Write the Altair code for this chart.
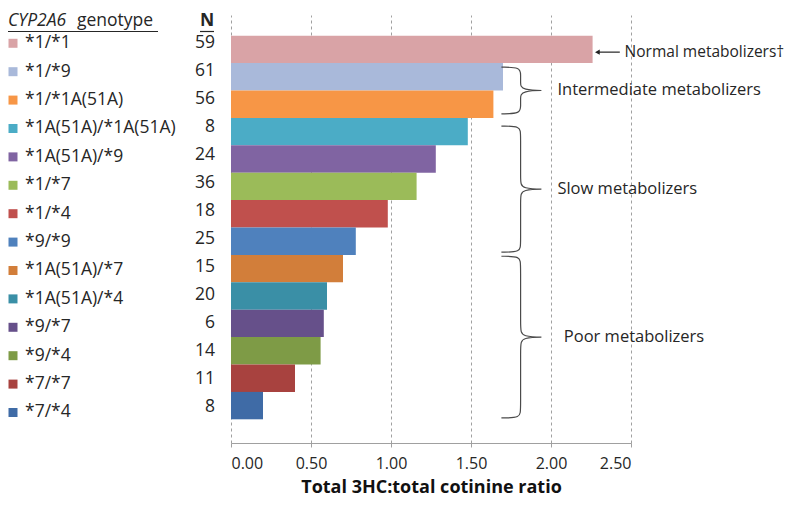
import altair as alt
import pandas as pd

# ---------------- data ----------------
genotypes = ["*1/*1", "*1/*9", "*1/*1A(51A)", "*1A(51A)/*1A(51A)", "*1A(51A)/*9",
             "*1/*7", "*1/*4", "*9/*9", "*1A(51A)/*7", "*1A(51A)/*4", "*9/*7",
             "*9/*4", "*7/*7", "*7/*4"]
n_values = [59, 61, 56, 8, 24, 36, 18, 25, 15, 20, 6, 14, 11, 8]
ratios = [2.26, 1.70, 1.64, 1.48, 1.28, 1.16, 0.98, 0.78, 0.70, 0.60, 0.58, 0.56, 0.40, 0.20]
colors = ["#D9A3A6", "#A9B9DA", "#F79646", "#4BACC6", "#8064A2", "#9BBB59", "#C0504D",
          "#4F81BD", "#D27E3A", "#3A8FA6", "#66508A", "#7E9B46", "#A8423F", "#3F6BA6"]
tick_values = [0, 0.5, 1.0, 1.5, 2.0, 2.5]

group_labels = ["Intermediate metabolizers", "Slow metabolizers", "Poor metabolizers"]
group_start = [1.15, 3.3, 8.05]     # brace span, in bar rows
group_end = [2.85, 7.9, 13.95]
group_text_x = [2.04, 2.04, 2.08]

normal_label = "Normal metabolizers\u2020"

FONT = "Open Sans, DejaVu Sans"
TXT = "#262626"

# ---------------- tables ----------------
df = pd.DataFrame({
    "genotype": genotypes,
    "n": n_values,
    "ratio": ratios,
    "idx": list(range(len(genotypes))),
})
df["i0"] = df["idx"]
df["i1"] = df["idx"] + 1
df["base"] = 0.0

XL, XM, XT, R = 1.69, 1.81, 2.005, 0.3
rows = []
for g, a, b in zip(group_labels, group_start, group_end):
    c = (a + b) / 2
    pts = [(XL, a), (XM, a), (XM, a + R), (XM, c - R), (XM, c), (XT, c),
           (XM, c), (XM, c + R), (XM, b - R), (XM, b), (XL, b)]
    for k, (px, py) in enumerate(pts):
        rows.append({"group": g, "k": k, "bx": px, "by": py})
brace_df = pd.DataFrame(rows)
glabel_df = pd.DataFrame({
    "label": group_labels,
    "lx": group_text_x,
    "ly": [(a + b) / 2 for a, b in zip(group_start, group_end)],
})
normal_df = pd.DataFrame({"label": [normal_label], "lx": [2.46], "ly": [0.6],
                          "ax0": [2.29], "ax1": [2.43]})

# ---------------- scales ----------------
bar_y = alt.Scale(domain=[-0.755, 14.865], reverse=True, nice=False, zero=False)
label_y = alt.Scale(domain=[-0.996, 14.074], reverse=True, nice=False, zero=False)
n_y = alt.Scale(domain=[-0.988, 14.28], reverse=True, nice=False, zero=False)
x_scale = alt.Scale(domain=[0, 2.5], nice=False, zero=True)
color_scale = alt.Scale(domain=genotypes, range=colors)

base = alt.Chart(df)

bars = base.mark_rect().encode(
    x=alt.X("base:Q", scale=x_scale,
            axis=alt.Axis(values=tick_values, format=".2f",
                          title="Total 3HC:total cotinine ratio")),
    x2="ratio:Q",
    y=alt.Y("i0:Q", scale=bar_y, axis=None),
    y2="i1:Q",
    color=alt.Color("genotype:N", scale=color_scale, legend=None),
)

labels = base.mark_text(align="left", baseline="middle", font=FONT, fontSize=17.5, color=TXT).encode(
    x=alt.value(-206),
    y=alt.Y("idx:Q", scale=label_y, axis=None),
    text="genotype:N",
)
squares = base.mark_square(size=81, opacity=1).encode(
    x=alt.value(-218),
    y=alt.Y("idx:Q", scale=label_y, axis=None),
    color=alt.Color("genotype:N", scale=color_scale, legend=None),
)
ns = base.mark_text(align="right", baseline="middle", font=FONT, fontSize=17.5, color=TXT).encode(
    x=alt.value(-16),
    y=alt.Y("idx:Q", scale=n_y, axis=None),
    text="n:Q",
)

braces = alt.Chart(brace_df).mark_line(interpolate="basis", color="#4a4a4a", strokeWidth=1.2).encode(
    x=alt.X("bx:Q", scale=x_scale),
    y=alt.Y("by:Q", scale=bar_y, axis=None),
    detail="group:N",
    order="k:Q",
)
glabels = alt.Chart(glabel_df).mark_text(align="left", baseline="middle", font=FONT, fontSize=16.5, color=TXT).encode(
    x=alt.X("lx:Q", scale=x_scale),
    y=alt.Y("ly:Q", scale=bar_y, axis=None),
    text="label:N",
)
nlabel = alt.Chart(normal_df).mark_text(align="left", baseline="middle", font=FONT, fontSize=15.5, color=TXT).encode(
    x=alt.X("lx:Q", scale=x_scale),
    y=alt.Y("ly:Q", scale=bar_y, axis=None),
    text="label:N",
)
arrow_line = alt.Chart(normal_df).mark_rule(color="#222222", strokeWidth=1.2).encode(
    x=alt.X("ax0:Q", scale=x_scale),
    x2="ax1:Q",
    y=alt.Y("ly:Q", scale=bar_y, axis=None),
)
arrow_head = alt.Chart(normal_df).mark_point(shape="triangle-left", filled=True, size=30,
                                             color="#222222", opacity=1).encode(
    x=alt.X("ax0:Q", scale=x_scale),
    y=alt.Y("ly:Q", scale=bar_y, axis=None),
)

hdr = pd.DataFrame({"t": ["CYP2A6"], "u": ["genotype"], "v": ["N"]})
h1 = alt.Chart(hdr).mark_text(align="left", baseline="middle", font=FONT, fontSize=17.5,
                              fontStyle="italic", color=TXT).encode(
    x=alt.value(-223), y=alt.value(6), text="t:N")
h2 = alt.Chart(hdr).mark_text(align="left", baseline="middle", font=FONT, fontSize=17.5,
                              color=TXT).encode(
    x=alt.value(-154), y=alt.value(6), text="u:N")
h3 = alt.Chart(hdr).mark_text(align="left", baseline="middle", font=FONT, fontSize=17.5,
                              fontWeight="bold", color=TXT).encode(
    x=alt.value(-31), y=alt.value(6), text="v:N")
u1 = alt.Chart(hdr).mark_rule(color=TXT, strokeWidth=1.2).encode(
    x=alt.value(-223), x2=alt.value(-73), y=alt.value(16.5))
u2 = alt.Chart(hdr).mark_rule(color=TXT, strokeWidth=1.2).encode(
    x=alt.value(-31), x2=alt.value(-17), y=alt.value(16.5))

chart = alt.layer(
    bars, braces, glabels, nlabel, arrow_line, arrow_head,
    labels, squares, ns, h1, h2, h3, u1, u2,
).resolve_scale(y="independent").properties(
    width=400, height=428,
    autosize=alt.AutoSizeParams(type="none"),
    padding={"left": 223, "top": 7, "right": 161, "bottom": 55},
).configure_view(stroke=None).configure_axis(
    grid=True, gridDash=[3, 3], gridColor="#A0A0A0", gridWidth=1,
    domainColor="#A0A0A0", tickColor="#A0A0A0", tickSize=4,
    labelFont=FONT, labelFontSize=16, labelColor=TXT, labelPadding=8,
    titleFont=FONT, titleFontSize=18, titleFontWeight="bold", titleColor="#111111",
    titlePadding=7,
)

chart.save("out.html", embed_options={"renderer": "svg", "actions": False})
